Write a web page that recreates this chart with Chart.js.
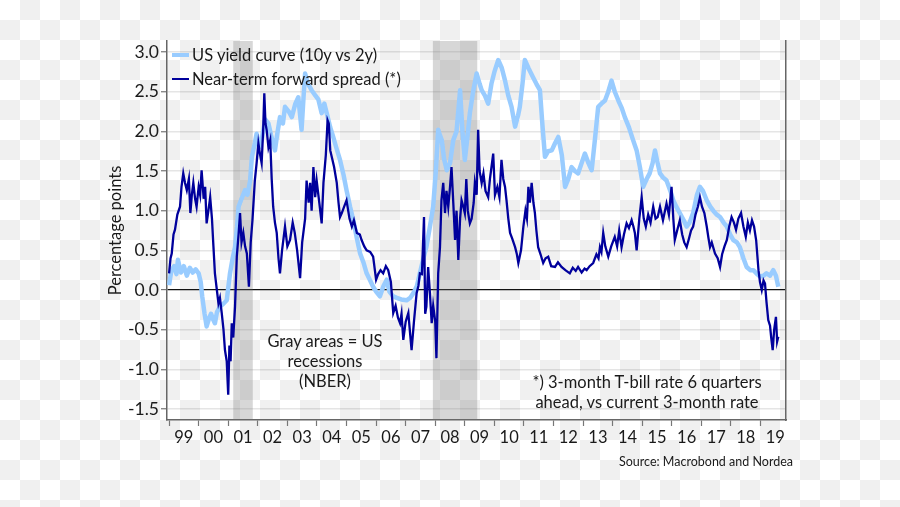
<!DOCTYPE html>
<html>
<head>
<meta charset="utf-8">
<script src="https://cdn.jsdelivr.net/npm/chart.js@4/dist/chart.umd.min.js"></script>
<style>
  html, body { margin: 0; padding: 0; }
  body {
    width: 900px; height: 507px; overflow: hidden; position: relative;
    background: repeating-conic-gradient(#f0f0f0 0 25%, #ffffff 0 50%) 0 0 / 40px 40px;
    font-family: Lato, "Liberation Sans", sans-serif; color: #222;
  }
  #wrap { position: absolute; left: 0; top: 0; width: 900px; height: 507px; }
  .note { position: absolute; text-align: center; font-size: 16.5px; line-height: 20px; color: #1a1a1a; }
  #legend { position: absolute; left: 172px; top: 43px; font-size: 16.5px; color: #1a1a1a; }
  #legend .item { display: flex; align-items: center; height: 24px; }
  #legend .sw { width: 17px; margin-right: 3px; }
  #source { position: absolute; right: 107px; top: 454px; font-size: 12.5px; color: #1a1a1a; }
</style>
</head>
<body>
<div id="wrap"><canvas id="c" width="900" height="507"></canvas></div>
<div id="legend"></div>
<div class="note" style="left:245px; top:331px; width:160px;">Gray areas = US<br>recessions<br>(NBER)</div>
<div class="note" style="left:517px; top:372px; width:260px;">*) 3-month T-bill rate 6 quarters<br>ahead, vs current 3-month rate</div>
<div id="source">Source: Macrobond and Nordea</div>
<script>
// ---- data ----
const seriesNames = ['US yield curve (10y vs 2y)', 'Near-term forward spread (*)'];

const ycDates = [1999.0,1999.08,1999.17,1999.25,1999.3,1999.4,1999.5,1999.6,1999.7,1999.8,1999.9,2000.0,2000.07,2000.12,2000.2,2000.27,2000.35,2000.42,2000.5,2000.55,2000.62,2000.72,2000.82,2000.95,2001.06,2001.15,2001.23,2001.3,2001.35,2001.45,2001.57,2001.65,2001.74,2001.8,2001.9,2001.96,2002.05,2002.13,2002.25,2002.36,2002.45,2002.58,2002.65,2002.75,2002.85,2002.92,2003.05,2003.15,2003.27,2003.37,2003.48,2003.55,2003.6,2003.7,2003.82,2003.95,2004.05,2004.16,2004.25,2004.33,2004.45,2004.55,2004.65,2004.78,2004.9,2005.0,2005.12,2005.23,2005.35,2005.46,2005.57,2005.68,2005.8,2005.9,2006.0,2006.13,2006.25,2006.36,2006.45,2006.58,2006.7,2006.85,2007.03,2007.15,2007.26,2007.38,2007.48,2007.6,2007.7,2007.82,2007.93,2008.02,2008.1,2008.16,2008.22,2008.3,2008.39,2008.5,2008.61,2008.72,2008.84,2008.92,2009.0,2009.08,2009.17,2009.28,2009.4,2009.5,2009.57,2009.68,2009.79,2009.9,2010.0,2010.13,2010.25,2010.36,2010.47,2010.58,2010.7,2010.8,2010.86,2010.95,2011.03,2011.15,2011.31,2011.42,2011.54,2011.62,2011.71,2011.82,2011.94,2012.05,2012.16,2012.28,2012.39,2012.5,2012.61,2012.72,2012.83,2012.95,2013.06,2013.18,2013.29,2013.4,2013.51,2013.62,2013.74,2013.85,2013.96,2014.07,2014.19,2014.3,2014.41,2014.55,2014.69,2014.81,2014.92,2015.03,2015.15,2015.25,2015.35,2015.43,2015.52,2015.6,2015.7,2015.82,2015.95,2016.05,2016.15,2016.27,2016.4,2016.5,2016.6,2016.72,2016.85,2016.95,2017.05,2017.18,2017.3,2017.4,2017.52,2017.63,2017.75,2017.86,2017.97,2018.08,2018.2,2018.3,2018.42,2018.53,2018.65,2018.76,2018.88,2018.98,2019.1,2019.2,2019.32,2019.43,2019.52,2019.6];
const ycValues = [0.06,0.25,0.30,0.20,0.38,0.22,0.30,0.18,0.28,0.22,0.26,0.21,0.10,-0.08,-0.30,-0.46,-0.36,-0.30,-0.38,-0.42,-0.28,-0.21,-0.18,-0.13,0.21,0.40,0.54,0.80,1.05,1.15,1.26,1.20,1.38,1.68,1.85,1.97,1.80,1.89,2.15,2.10,1.95,1.76,1.95,2.18,2.10,2.31,2.25,2.18,2.35,2.43,2.02,2.45,2.73,2.60,2.52,2.45,2.40,2.23,2.35,2.23,2.05,1.93,1.80,1.64,1.45,1.26,1.05,0.88,0.65,0.46,0.35,0.21,0.12,0.04,-0.02,-0.08,0.05,0.13,-0.02,-0.08,-0.10,-0.12,-0.13,-0.10,-0.04,0.05,0.21,0.40,0.54,0.80,1.05,1.50,2.02,1.95,1.89,1.65,1.51,1.60,1.89,2.00,2.52,2.00,1.64,1.90,2.23,2.50,2.73,2.60,2.52,2.45,2.35,2.60,2.75,2.90,2.80,2.64,2.45,2.31,2.06,2.20,2.31,2.60,2.90,2.80,2.68,2.60,2.52,2.10,1.68,1.75,1.76,1.85,1.93,1.70,1.30,1.40,1.55,1.50,1.47,1.60,1.72,1.60,1.51,1.90,2.31,2.35,2.39,2.50,2.64,2.50,2.39,2.30,2.18,2.05,1.89,1.76,1.55,1.30,1.40,1.47,1.60,1.76,1.60,1.47,1.42,1.38,1.25,1.13,1.05,0.97,0.88,0.80,0.85,0.97,1.20,1.30,1.25,1.13,1.05,1.00,0.95,0.92,0.85,0.80,0.70,0.63,0.60,0.54,0.40,0.29,0.25,0.25,0.20,0.17,0.18,0.21,0.18,0.25,0.18,0.04];

const fsDates = [1999.0,1999.05,1999.09,1999.15,1999.2,1999.28,1999.37,1999.42,1999.48,1999.54,1999.6,1999.67,1999.72,1999.77,1999.82,1999.88,1999.93,2000.0,2000.05,2000.1,2000.17,2000.22,2000.27,2000.33,2000.39,2000.45,2000.5,2000.55,2000.6,2000.67,2000.72,2000.78,2000.84,2000.89,2000.95,2001.0,2001.04,2001.08,2001.12,2001.17,2001.23,2001.29,2001.35,2001.4,2001.45,2001.51,2001.57,2001.63,2001.7,2001.76,2001.82,2001.9,2001.96,2002.02,2002.08,2002.13,2002.18,2002.22,2002.26,2002.3,2002.36,2002.42,2002.47,2002.52,2002.58,2002.64,2002.7,2002.75,2002.82,2002.92,2003.0,2003.09,2003.18,2003.25,2003.33,2003.43,2003.5,2003.6,2003.65,2003.72,2003.77,2003.82,2003.88,2003.94,2003.99,2004.08,2004.16,2004.22,2004.3,2004.36,2004.4,2004.45,2004.5,2004.58,2004.67,2004.73,2004.78,2004.84,2004.92,2005.0,2005.1,2005.18,2005.25,2005.35,2005.45,2005.51,2005.6,2005.68,2005.8,2005.9,2006.0,2006.07,2006.15,2006.24,2006.33,2006.41,2006.5,2006.58,2006.66,2006.74,2006.81,2006.86,2006.92,2007.0,2007.09,2007.15,2007.2,2007.28,2007.37,2007.43,2007.48,2007.55,2007.62,2007.66,2007.7,2007.76,2007.82,2007.88,2007.93,2008.0,2008.04,2008.1,2008.16,2008.21,2008.27,2008.33,2008.38,2008.44,2008.5,2008.55,2008.61,2008.67,2008.72,2008.78,2008.84,2008.89,2008.95,2009.0,2009.05,2009.1,2009.17,2009.23,2009.3,2009.34,2009.4,2009.45,2009.5,2009.57,2009.63,2009.7,2009.79,2009.85,2009.96,2010.02,2010.1,2010.17,2010.24,2010.3,2010.36,2010.41,2010.47,2010.53,2010.6,2010.7,2010.76,2010.81,2010.9,2010.98,2011.05,2011.1,2011.15,2011.2,2011.26,2011.32,2011.37,2011.42,2011.48,2011.56,2011.65,2011.73,2011.82,2011.92,2012.05,2012.15,2012.27,2012.4,2012.55,2012.65,2012.75,2012.83,2012.95,2013.05,2013.12,2013.22,2013.34,2013.45,2013.52,2013.57,2013.62,2013.68,2013.75,2013.85,2013.95,2014.07,2014.15,2014.22,2014.3,2014.38,2014.47,2014.55,2014.64,2014.7,2014.75,2014.81,2014.9,2014.98,2015.05,2015.12,2015.2,2015.28,2015.37,2015.45,2015.52,2015.6,2015.7,2015.82,2015.9,2015.99,2016.05,2016.1,2016.18,2016.27,2016.35,2016.42,2016.5,2016.58,2016.65,2016.72,2016.8,2016.88,2016.95,2017.02,2017.1,2017.18,2017.24,2017.29,2017.35,2017.46,2017.55,2017.63,2017.7,2017.78,2017.86,2017.94,2018.02,2018.1,2018.17,2018.25,2018.34,2018.42,2018.5,2018.57,2018.64,2018.71,2018.78,2018.85,2018.93,2018.98,2019.04,2019.1,2019.15,2019.2,2019.26,2019.32,2019.36,2019.41,2019.46,2019.52,2019.56,2019.6];
const fsValues = [0.21,0.40,0.46,0.70,0.76,0.95,1.05,1.30,1.47,1.35,1.26,1.40,0.97,1.20,1.35,1.15,1.05,1.30,1.20,1.51,1.15,1.30,0.84,1.00,1.17,0.90,0.55,0.21,0.05,-0.17,-0.10,-0.29,-0.50,-0.76,-0.90,-1.32,-0.70,-0.90,-0.42,-0.60,-0.21,0.42,0.70,0.97,0.60,0.72,0.55,0.46,0.04,0.60,0.88,1.38,1.60,1.85,1.70,1.60,2.00,2.48,2.10,2.02,1.80,1.89,1.40,1.05,0.85,0.72,0.40,0.21,0.50,0.80,0.55,0.63,0.85,0.72,0.50,0.15,0.60,0.90,1.38,1.10,1.35,1.00,1.55,1.17,1.38,1.10,0.84,1.35,1.70,2.14,2.10,1.76,1.68,1.55,1.35,1.10,0.92,0.97,1.05,1.13,0.90,0.80,0.88,0.72,0.70,0.63,0.55,0.50,0.48,0.42,0.13,0.20,0.25,0.21,0.30,0.25,0.10,-0.29,-0.20,-0.35,-0.42,-0.30,-0.63,-0.40,-0.29,-0.55,-0.76,-0.40,-0.04,0.05,0.21,0.20,0.92,-0.30,-0.21,0.29,-0.04,-0.42,-0.20,-0.40,-0.86,0.21,0.54,1.13,1.35,0.97,1.25,1.05,1.30,1.55,1.10,0.63,1.00,0.38,0.90,1.13,1.05,0.97,1.40,1.00,0.84,0.90,1.10,1.35,1.20,2.02,1.50,1.35,1.47,1.25,1.17,1.40,1.72,1.20,1.30,1.17,1.64,1.40,1.30,1.13,0.90,0.72,0.65,0.54,0.45,0.34,0.50,0.80,1.00,0.90,1.30,1.10,1.35,1.10,0.97,0.75,0.54,0.45,0.34,0.40,0.42,0.30,0.29,0.35,0.29,0.25,0.21,0.28,0.24,0.29,0.22,0.27,0.25,0.30,0.34,0.45,0.40,0.54,0.48,0.72,0.55,0.42,0.55,0.67,0.55,0.75,0.54,0.70,0.84,0.78,0.88,0.80,0.72,0.50,0.90,1.17,0.90,0.80,0.95,0.85,1.05,0.90,0.92,1.05,0.88,1.09,0.95,1.30,0.90,0.63,0.75,0.88,0.70,0.60,0.54,0.65,0.75,0.80,0.95,1.05,1.17,1.05,0.97,0.80,0.65,0.54,0.60,0.46,0.40,0.29,0.45,0.55,0.63,0.80,0.92,0.85,0.76,0.90,0.97,0.80,0.67,0.85,0.75,0.88,0.80,0.63,0.25,0.10,0.00,0.12,0.08,-0.15,-0.38,-0.45,-0.60,-0.76,-0.50,-0.34,-0.65,-0.59];

const recessionStarts = [2001.17, 2007.92];
const recessionEnds   = [2001.83, 2009.42];

const yearTicks  = [1999,2000,2001,2002,2003,2004,2005,2006,2007,2008,2009,2010,2011,2012,2013,2014,2015,2016,2017,2018,2019];
const yearLabels = ['99','00','01','02','03','04','05','06','07','08','09','10','11','12','13','14','15','16','17','18','19'];
const yTicks = [-1.5,-1.0,-0.5,0.0,0.5,1.0,1.5,2.0,2.5,3.0];

const colors = ['#99ccff', '#00009c'];
const widths = [4.5, 2.3];

// ---- build ----
const toPts = (d, v) => d.map((x, i) => ({ x: x, y: v[i] }));

const recessionPlugin = {
  id: 'recessions',
  beforeDatasetsDraw(chart) {
    const { ctx, chartArea, scales } = chart;
    ctx.save();
    ctx.fillStyle = 'rgba(110,110,110,0.28)';
    recessionStarts.forEach((s, i) => {
      const x0 = scales.x.getPixelForValue(s);
      const x1 = scales.x.getPixelForValue(recessionEnds[i]);
      ctx.fillRect(x0, chartArea.top, x1 - x0, chartArea.bottom - chartArea.top);
    });
    ctx.restore();
  }
};

const yearLabelPlugin = {
  id: 'yearLabels',
  afterDraw(chart) {
    const { ctx, chartArea, scales } = chart;
    ctx.save();
    ctx.fillStyle = '#1a1a1a';
    ctx.font = '16.5px Lato, "Liberation Sans", sans-serif';
    ctx.textAlign = 'center';
    ctx.textBaseline = 'middle';
    yearTicks.forEach((yr, i) => {
      ctx.fillText(yearLabels[i], scales.x.getPixelForValue(yr + 0.5), chartArea.bottom + 18);
    });
    ctx.restore();
  }
};

const chart = new Chart(document.getElementById('c'), {
  type: 'line',
  data: {
    datasets: [
      { label: seriesNames[0], data: toPts(ycDates, ycValues), borderColor: colors[0], backgroundColor: colors[0],
        borderWidth: widths[0], pointRadius: 0, tension: 0, order: 2, borderJoinStyle: 'round' },
      { label: seriesNames[1], data: toPts(fsDates, fsValues), borderColor: colors[1], backgroundColor: colors[1],
        borderWidth: widths[1], pointRadius: 0, tension: 0, order: 1 }
    ]
  },
  options: {
    responsive: false,
    animation: false,
    devicePixelRatio: 1,
    layout: { padding: { left: 106, right: 114, top: 41, bottom: 57 } },
    plugins: { legend: { display: false }, tooltip: { enabled: false } },
    scales: {
      x: {
        type: 'linear', min: 1998.93, max: 2019.86,
        afterBuildTicks: (s) => { s.ticks = yearTicks.map(v => ({ value: v })); },
        afterFit: (s) => { s.height = 30; },
        ticks: { callback: () => '', maxRotation: 0, autoSkip: false },
        grid: { drawOnChartArea: false, drawTicks: true, tickLength: 6, tickColor: '#777', tickWidth: 1.2 },
        border: { display: true, color: '#666', width: 1.5 }
      },
      y: {
        min: -1.64, max: 3.14,
        afterBuildTicks: (s) => { s.ticks = yTicks.map(v => ({ value: v })); },
        afterFit: (s) => { s.width = 61; },
        ticks: { color: '#1a1a1a', font: { family: 'Lato', size: 17.5 }, padding: 2,
                 callback: (v) => v.toFixed(1) },
        title: { display: true, text: 'Percentage points', color: '#1a1a1a', font: { family: 'Lato', size: 16.5 }, padding: 0 },
        grid: {
          color: (c) => c.tick && c.tick.value === 0 ? '#111' : 'rgba(0,0,0,0.10)',
          lineWidth: (c) => c.tick && c.tick.value === 0 ? 1.2 : 1.5,
          tickColor: '#777', tickLength: 6, tickWidth: 1.2
        },
        border: { display: true, color: '#666', width: 1.5 }
      },
      y2: {
        position: 'right', min: -1.64, max: 3.14,
        afterFit: (s) => { s.width = 0; },
        ticks: { display: false },
        grid: { display: false, drawTicks: false },
        border: { display: true, color: '#666', width: 1.5 }
      }
    }
  },
  plugins: [recessionPlugin, yearLabelPlugin]
});

// HTML legend from datasets
const leg = document.getElementById('legend');
chart.data.datasets.forEach(ds => {
  const item = document.createElement('div');
  item.className = 'item';
  const sw = document.createElement('span');
  sw.className = 'sw';
  sw.style.height = Math.min(ds.borderWidth, 4) + 'px';
  sw.style.background = ds.borderColor;
  const tx = document.createElement('span');
  tx.textContent = ds.label;
  item.appendChild(sw); item.appendChild(tx);
  leg.appendChild(item);
});
</script>
</body>
</html>
